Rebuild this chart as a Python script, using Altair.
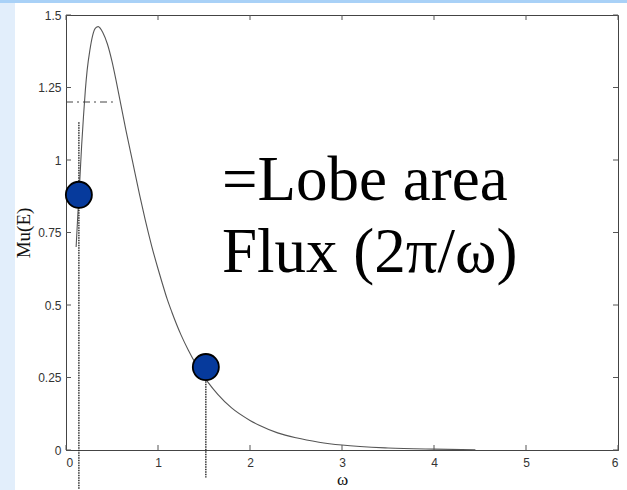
import altair as alt
import pandas as pd

# Mu(E) curve against omega
omega = [0.11, 0.13, 0.15, 0.17, 0.19, 0.21, 0.23, 0.26, 0.29, 0.32, 0.35, 0.40,
         0.45, 0.50, 0.55, 0.60, 0.65, 0.70, 0.75, 0.80, 0.86, 0.93, 1.00, 1.04,
         1.10, 1.15, 1.25, 1.33, 1.42, 1.54, 1.65, 1.80, 2.00, 2.10, 2.30, 2.50,
         2.75, 3.00, 3.50, 4.00, 4.45]
mu = [0.70, 0.82, 0.93, 1.05, 1.15, 1.24, 1.31, 1.38, 1.43, 1.455, 1.46, 1.44,
      1.40, 1.34, 1.265, 1.185, 1.105, 1.03, 0.955, 0.88, 0.795, 0.705, 0.625, 0.582,
      0.52, 0.476, 0.397, 0.344, 0.292, 0.235, 0.192, 0.145, 0.102, 0.085, 0.059, 0.042,
      0.027, 0.017, 0.007, 0.003, 0.001]

# highlighted points
pt_omega = [0.14, 1.52]
pt_mu = [0.88, 0.286]

# dotted drop lines (top, bottom)
drop_x = [0.14, 1.52]
drop_top = [1.13, 0.28]
drop_bottom = [-0.135, -0.095]

# dash-dot reference level
ref_level = [1.2]
ref_x0 = [0.0]
ref_x1 = [0.51]

x_ticks = [0, 1, 2, 3, 4, 5, 6]
y_ticks = [0, 0.25, 0.5, 0.75, 1, 1.25, 1.5]

W, H = 552, 435

curve_df = pd.DataFrame({"omega": omega, "mu": mu})
pts_df = pd.DataFrame({"omega": pt_omega, "mu": pt_mu})
drop_df = pd.DataFrame({"omega": drop_x, "top": drop_top, "bottom": drop_bottom})
ref_df = pd.DataFrame({"level": ref_level, "x0": ref_x0, "x1": ref_x1})
xt_df = pd.DataFrame({"t": x_ticks})
yt_df = pd.DataFrame({"t": y_ticks})

xscale = alt.Scale(domain=[0, 6], nice=False, zero=False)
yscale = alt.Scale(domain=[0, 1.5], nice=False, zero=False)

xaxis = alt.Axis(values=x_ticks, title="ω", ticks=False, grid=False, format="d",
                 labelFont="Liberation Sans", labelFontSize=12, labelColor="#333",
                 labelPadding=7, domainColor="#444", titleFont="Liberation Serif",
                 titleFontSize=17, titleFontWeight="normal", titleColor="#111",
                 titlePadding=3)
yaxis = alt.Axis(values=y_ticks, title="Mu(E)", ticks=False, grid=False, format=".3~g",
                 labelFont="Liberation Sans", labelFontSize=12, labelColor="#333",
                 labelPadding=5, domainColor="#444", titleFont="Liberation Serif",
                 titleFontSize=19, titleFontWeight="normal", titleColor="#111",
                 titlePadding=4)

# slide background strips
left_strip = alt.Chart(pd.DataFrame({"k": [0]})).mark_rect(
    color="#e2eefb", clip=False
).encode(x=alt.value(-66), x2=alt.value(-51), y=alt.value(-15), y2=alt.value(H + 40))
top_strip = alt.Chart(pd.DataFrame({"k": [0]})).mark_rect(
    color="#a9d1f7", clip=False
).encode(x=alt.value(-66), x2=alt.value(W + 9), y=alt.value(-15), y2=alt.value(-12))

curve = alt.Chart(curve_df).mark_line(
    color="#555", strokeWidth=1.1, interpolate="monotone"
).encode(
    x=alt.X("omega:Q", scale=xscale, axis=xaxis),
    y=alt.Y("mu:Q", scale=yscale, axis=yaxis),
)

ref = alt.Chart(ref_df).mark_rule(
    color="#444", strokeWidth=1, strokeDash=[7, 4, 2, 4]
).encode(x=alt.X("x0:Q", scale=xscale), x2="x1:Q", y=alt.Y("level:Q", scale=yscale))

drops = alt.Chart(drop_df).mark_rule(
    color="#222", strokeWidth=1.4, strokeDash=[1.5, 1], clip=False
).encode(x=alt.X("omega:Q", scale=xscale), y=alt.Y("top:Q", scale=yscale), y2="bottom:Q")

points = alt.Chart(pts_df).mark_circle(
    size=680, color="#063a9c", opacity=1, stroke="#000", strokeWidth=1.8
).encode(x=alt.X("omega:Q", scale=xscale), y=alt.Y("mu:Q", scale=yscale))

# inward-pointing ticks on all four sides
tick_style = dict(color="#555", strokeWidth=1)
xt_bottom = alt.Chart(xt_df).mark_rule(**tick_style).encode(
    x=alt.X("t:Q", scale=xscale), y=alt.value(H), y2=alt.value(H - 5))
xt_top = alt.Chart(xt_df).mark_rule(**tick_style).encode(
    x=alt.X("t:Q", scale=xscale), y=alt.value(0), y2=alt.value(5))
yt_left = alt.Chart(yt_df).mark_rule(**tick_style).encode(
    y=alt.Y("t:Q", scale=yscale), x=alt.value(0), x2=alt.value(5))
yt_right = alt.Chart(yt_df).mark_rule(**tick_style).encode(
    y=alt.Y("t:Q", scale=yscale), x=alt.value(W), x2=alt.value(W - 5))

label1 = alt.Chart(pd.DataFrame({"s": ["=Lobe area"]})).mark_text(
    font="Liberation Serif", fontSize=63, align="left", baseline="alphabetic", color="#000"
).encode(text="s:N", x=alt.value(156), y=alt.value(185))
label2 = alt.Chart(pd.DataFrame({"s": ["Flux (2π/ω)"]})).mark_text(
    font="Liberation Serif", fontSize=63, align="left", baseline="alphabetic", color="#000"
).encode(text="s:N", x=alt.value(156), y=alt.value(257))

chart = alt.layer(
    left_strip, top_strip, curve, ref, drops, points,
    xt_bottom, xt_top, yt_left, yt_right, label1, label2
).properties(
    width=W, height=H,
    autosize=alt.AutoSizeParams(type="none"),
    padding={"left": 66, "top": 15, "right": 9, "bottom": 40},
    background="white",
).configure_view(stroke="#444", strokeWidth=1)

chart.save("out.html", embed_options={"renderer": "svg", "actions": False})
